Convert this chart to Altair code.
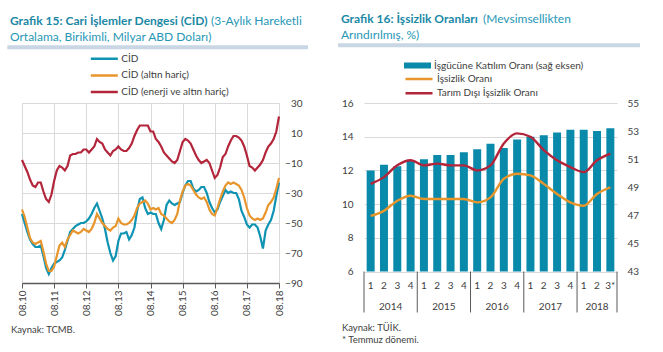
import json
import altair as alt
import pandas as pd

FONT = "Lato"
TXT = "#404040"
AXC = "#595959"
GRID = "#d9d9d9"
T_BOLD = "#1b88a6"
T_REG = "#2797b6"
SEP = "#c9d6e4"
BAR = "#0a8aaa"

# ---------------- Grafik 15 data (monthly, 08.2010 - 08.2018) ----------------
month_ticks = ["08.10", "08.11", "08.12", "08.13", "08.14", "08.15", "08.16", "08.17", "08.18"]

cid = [
    -44, -50, -56, -61, -64, -66, -66, -65, -72, -80, -84, -80,
    -77, -76, -75, -73, -68, -62, -56, -54, -52, -51, -50, -50,
    -49, -47, -44, -40, -37, -42, -47, -54, -63, -70, -75, -72,
    -62, -57, -57, -56, -61, -58, -53, -42, -34, -33, -40, -44,
    -43, -44, -44, -50, -54, -48, -38, -35, -37, -38, -37, -36,
    -30, -25, -22, -22, -27, -29, -28, -26, -26, -30, -36, -40,
    -43, -41, -36, -32, -28, -30, -29, -30, -30, -34, -42, -46,
    -51, -53, -51, -51, -53, -59, -67, -55, -51, -48, -42, -32,
    -23,
]
cid_altin = [
    -41, -46, -53, -60, -63, -64, -63, -62, -69, -77, -82, -82,
    -79, -72, -65, -63, -66, -61, -58, -55, -56, -57, -56, -54,
    -55, -56, -54, -50, -44, -47, -50, -52, -54, -55, -53, -52,
    -47, -50, -51, -51, -50, -48, -45, -40, -37, -36, -35, -37,
    -41, -40, -41, -40, -44, -45, -47, -49, -50, -48, -44, -35,
    -29, -25, -24, -25, -28, -31, -33, -34, -33, -36, -41, -44,
    -45, -40, -34, -29, -25, -23, -24, -23, -24, -25, -28, -33,
    -40, -45, -47, -48, -47, -48, -47, -43, -38, -36, -33, -27,
    -20,
]
cid_enerji = [
    -8, -12, -16, -21, -25, -26, -23, -23, -29, -34, -36, -31,
    -22, -15, -12, -13, -15, -12, -5, -4, -4, -3, -3, -1,
    -1, -3, -1, 1, 6, 4, 3, -1, -3, -5, -2, -1,
    1, -1, -2, -2, 0, 3, 8, 12, 15, 15, 15, 15,
    11, 11, 6, 4, 1, -3, -5, -7, -9, -10, -8, -2,
    4, 6, 5, 3, -1, -5, -8, -10, -9, -8, -10, -15,
    -20, -18, -13, -6, -4, 1, 5, 8, 8, 7, 5, 1,
    -5, -12, -13, -15, -13, -11, -8, -3, 1, 3, 6, 11,
    21,
]
series15 = ["CİD", "CİD (altın hariç)", "CİD (enerji ve altın hariç)"]
colors15 = ["#0f93b3", "#e8952c", "#b3253a"]

# ---------------- Grafik 16 data (quarterly, 2014Q1 - 2018Q3) ----------------
q_years = [2014] * 4 + [2015] * 4 + [2016] * 4 + [2017] * 4 + [2018] * 3
q_labels = ["1", "2", "3", "4"] * 4 + ["1", "2", "3*"]
year_names = ["2014", "2015", "2016", "2017", "2018"]
participation = [50.2, 50.6, 50.5, 50.9, 51.0, 51.3, 51.3, 51.5, 51.7, 52.1,
                 51.8, 52.4, 52.6, 52.7, 52.9, 53.1, 53.1, 53.0, 53.2]
unemployment = [9.3, 9.6, 10.2, 10.5, 10.3, 10.3, 10.3, 10.3, 10.1, 10.4,
                11.5, 11.8, 11.7, 11.2, 10.6, 10.1, 9.9, 10.6, 11.0]
nonfarm = [11.2, 11.6, 12.3, 12.6, 12.3, 12.4, 12.3, 12.3, 12.0, 12.3,
           13.6, 14.2, 14.0, 13.2, 12.6, 12.2, 11.9, 12.6, 13.0]
bar_name = "İşgücüne Katılım Oranı (sağ eksen)"
line_names = ["İşsizlik Oranı", "Tarım Dışı İşsizlik Oranı"]
line_colors = ["#e8952c", "#b3253a"]

cats = [f"{y}-{q}" for y, q in zip(q_years, q_labels)]


# ---------------- helpers ----------------
def text_layer(s, x, y, size, color, bold=False):
    return alt.Chart(pd.DataFrame({"t": [s]})).mark_text(
        align="left", baseline="middle", font=FONT, fontSize=size,
        fontWeight="bold" if bold else "normal", color=color,
    ).encode(x=alt.value(x), y=alt.value(y), text="t:N")


def rule_layer(x1, x2, y1, y2, color, width, opacity=1.0):
    return alt.Chart(pd.DataFrame({"k": [0]})).mark_rule(
        color=color, strokeWidth=width, opacity=opacity,
    ).encode(x=alt.value(x1), x2=alt.value(x2), y=alt.value(y1), y2=alt.value(y2))


# ---------------- left panel ----------------
rows = []
for name, vals in zip(series15, [cid, cid_altin, cid_enerji]):
    for i, v in enumerate(vals):
        rows.append({"m": i, "v": v, "s": name})
df15 = pd.DataFrame(rows)

xL = alt.X(
    "m:Q", title=None,
    scale=alt.Scale(domain=[0, 96], nice=False, zero=False),
    axis=alt.Axis(
        values=list(range(0, 97, 12)),
        labelExpr=json.dumps(month_ticks) + "[round(datum.value / 12)]",
        labelAngle=270, labelFontSize=10, labelPadding=2,
        tickSize=5, tickColor=AXC, domainColor=AXC, domainWidth=1.5,
        grid=True, gridColor=GRID, gridWidth=1,
    ),
)
yL = alt.Y(
    "v:Q", title=None,
    scale=alt.Scale(domain=[-90, 30], nice=False, zero=False),
    axis=alt.Axis(
        orient="right", values=list(range(-90, 31, 20)), labelAlign="right",
        labelPadding=23, ticks=False, domain=False, grid=True, gridColor=GRID,
        labelFontSize=10,
    ),
)
lines15 = alt.Chart(df15).mark_line(strokeWidth=2.2).encode(
    x=xL, y=yL,
    color=alt.Color(
        "s:N", scale=alt.Scale(domain=series15, range=colors15),
        legend=alt.Legend(
            orient="none", legendX=67.3, legendY=-50.3, title=None,
            symbolType="stroke", symbolSize=729, symbolStrokeWidth=2.5,
            clipHeight=12, rowPadding=4.7, padding=0, labelOffset=2,
            labelFont=FONT, labelFontSize=10, labelColor=TXT, labelLimit=400,
        ),
    ),
)

left = alt.layer(
    rule_layer(-22, -22, -101, -100, "white", 0.5, 0),
    rule_layer(309, 309, -101, -100, "white", 0.5, 0),
    text_layer("Grafik 15: Cari İşlemler Dengesi (CİD)", -12, -82.5, 12, T_BOLD, True),
    text_layer("(3-Aylık Hareketli", 189, -82.5, 12, T_REG),
    text_layer("Ortalama, Birikimli, Milyar ABD Doları)", -12, -66, 12, T_REG),
    rule_layer(-14.7, 286, -55.7, -55.7, SEP, 4),
    lines15,
    text_layer("Kaynak: TCMB.", -11, 226.5, 9.5, TXT),
).properties(width=257, height=180)

# ---------------- right panel ----------------
xR = alt.X(
    "cat:N", title=None,
    scale=alt.Scale(domain=cats, paddingInner=0, paddingOuter=0),
    axis=alt.Axis(
        labels=False, tickBand="extent", tickSize=21, tickColor=AXC,
        domainColor=AXC, grid=True, gridColor=GRID,
    ),
)

# legends of a concatenated chart are positioned from the first panel's origin
R_DX, R_DY = 342, 2

dfb = pd.DataFrame({"cat": cats, "p": participation, "lbl": [bar_name] * len(cats)})
bars = alt.Chart(dfb).mark_bar(width=alt.RelativeBandSize(0.6)).encode(
    x=xR,
    y=alt.Y(
        "p:Q", title=None,
        scale=alt.Scale(domain=[43, 55], nice=False, zero=False),
        axis=alt.Axis(orient="right", values=list(range(43, 56, 2)), ticks=False,
                      domain=False, grid=False, labelPadding=10, labelFontSize=10),
    ),
    y2=alt.datum(43),
    fill=alt.Fill(
        "lbl:N", scale=alt.Scale(domain=[bar_name], range=[BAR]),
        legend=alt.Legend(
            orient="none", legendX=40 + R_DX, legendY=-45.5 + R_DY, title=None,
            symbolType="M-1,-0.22H1V0.22H-1Z", symbolSize=729, symbolStrokeWidth=0,
            clipHeight=12, padding=0, labelOffset=3,
            labelFont=FONT, labelFontSize=10, labelColor=TXT, labelLimit=400,
        ),
    ),
)

lrows = []
for name, vals in zip(line_names, [unemployment, nonfarm]):
    for c, v in zip(cats, vals):
        lrows.append({"cat": c, "v": v, "s": name})
dfl = pd.DataFrame(lrows)
lines16 = alt.Chart(dfl).mark_line(strokeWidth=2.4, interpolate="monotone").encode(
    x=xR,
    y=alt.Y(
        "v:Q", title=None,
        scale=alt.Scale(domain=[6, 16], nice=False, zero=False),
        axis=alt.Axis(orient="left", values=list(range(6, 17, 2)), ticks=False,
                      domain=False, grid=True, gridColor=GRID, labelPadding=11,
                      labelFontSize=10),
    ),
    stroke=alt.Stroke(
        "s:N", scale=alt.Scale(domain=line_names, range=line_colors),
        legend=alt.Legend(
            orient="none", legendX=40 + R_DX, legendY=-32 + R_DY, title=None,
            symbolType="stroke", symbolSize=729, symbolStrokeWidth=2.5,
            clipHeight=12, rowPadding=2.3, padding=0, labelOffset=3,
            labelFont=FONT, labelFontSize=10, labelColor=TXT, labelLimit=400,
        ),
    ),
)

quarter_text = alt.Chart(pd.DataFrame({"cat": cats, "q": q_labels})).mark_text(
    font=FONT, fontSize=10, color=TXT, baseline="middle"
).encode(x=alt.X("cat:N", axis=None), y=alt.value(182.7), text="q:N")

year_start_cats = [c for c, q in zip(cats, q_labels) if q == "1"]
year_rules = alt.Chart(pd.DataFrame({"cat": year_start_cats})).mark_rule(
    color=AXC, strokeWidth=1
).encode(
    x=alt.X("cat:N", bandPosition=0, axis=None),
    y=alt.value(168.5), y2=alt.value(209.5),
)
end_rule = alt.Chart(pd.DataFrame({"cat": [cats[-1]]})).mark_rule(
    color=AXC, strokeWidth=1
).encode(
    x=alt.X("cat:N", bandPosition=1, axis=None),
    y=alt.value(168.5), y2=alt.value(209.5),
)
full_years = year_names[:-1]
year_text_a = alt.Chart(pd.DataFrame({"cat": [f"{y}-2" for y in full_years], "y": full_years})).mark_text(
    font=FONT, fontSize=10, color=TXT, baseline="middle"
).encode(x=alt.X("cat:N", bandPosition=1, axis=None), y=alt.value(204), text="y:N")
year_text_b = alt.Chart(pd.DataFrame({"cat": [f"{year_names[-1]}-2"], "y": [year_names[-1]]})).mark_text(
    font=FONT, fontSize=10, color=TXT, baseline="middle"
).encode(x=alt.X("cat:N", bandPosition=0.5, axis=None), y=alt.value(204), text="y:N")

right = alt.layer(
    rule_layer(-33, -33, -103, -102, "white", 0.5, 0),
    rule_layer(298, 298, 248, 249, "white", 0.5, 0),
    text_layer("Grafik 16: İşsizlik Oranları", -23, -84.5, 12, T_BOLD, True),
    text_layer("(Mevsimsellikten", 119, -84.5, 12, T_REG),
    text_layer("Arındırılmış, %)", -23, -68, 12, T_REG),
    rule_layer(-26, 276, -57.7, -57.7, SEP, 4),
    bars,
    lines16,
    quarter_text,
    year_rules,
    end_rule,
    year_text_a,
    year_text_b,
    text_layer("Kaynak: TÜİK.", -22, 224.5, 9.5, TXT),
    text_layer("* Temmuz dönemi.", -22, 236.5, 9.5, TXT),
).resolve_scale(y="independent").properties(width=253, height=168.5)

chart = alt.hconcat(left, right, spacing=0).properties(padding=0).configure_view(
    strokeWidth=0
).configure_axis(
    labelFont=FONT, labelColor=TXT
)

chart.save("out.html", embed_options={"renderer": "svg", "actions": False})
